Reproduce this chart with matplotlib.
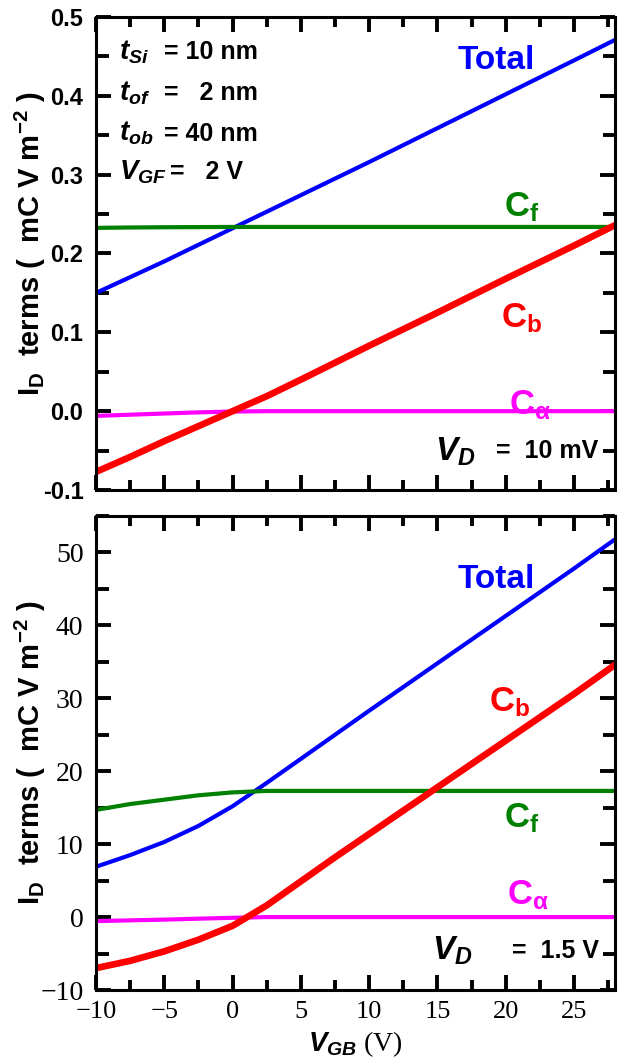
import matplotlib
matplotlib.use("Agg")
import matplotlib.pyplot as plt
from matplotlib.ticker import MultipleLocator, FixedLocator, FixedFormatter

plt.rcParams['font.family'] = 'Liberation Sans'
plt.rcParams['font.weight'] = 'bold'
plt.rcParams['mathtext.fontset'] = 'custom'
plt.rcParams['mathtext.rm'] = 'Liberation Sans:bold'
plt.rcParams['mathtext.bf'] = 'Liberation Sans:bold'
plt.rcParams['mathtext.it'] = 'Liberation Sans:italic:bold'
plt.rcParams['mathtext.default'] = 'bf'

# top panel, V_D = 10 mV
vgb_top = [-10, -7.5, -5, -2.5, 0, 2.5, 5, 10, 15, 20, 25, 28]
total_top = [0.150, 0.170, 0.190, 0.211, 0.232, 0.253, 0.274, 0.316, 0.359, 0.402, 0.445, 0.471]
cf_top = [0.2325, 0.233, 0.2333, 0.2335, 0.2337, 0.2337, 0.2337, 0.2337, 0.2337, 0.2337, 0.2337, 0.2337]
cb_top = [-0.077, -0.058, -0.038, -0.019, 0.000, 0.019, 0.040, 0.083, 0.125, 0.168, 0.210, 0.236]
ca_top = [-0.006, -0.0045, -0.003, -0.0015, -0.0005, 0, 0, 0, 0, 0, 0, 0]

# bottom panel, V_D = 1.5 V
vgb_bot = [-10, -7.5, -5, -2.5, 0, 2.5, 5, 7.5, 10, 15, 20, 25, 28]
total_bot = [6.9, 8.5, 10.3, 12.5, 15.2, 18.4, 21.7, 25.0, 28.3, 34.8, 41.3, 47.8, 51.8]
cb_bot = [-7.0, -6.0, -4.7, -3.1, -1.2, 1.6, 4.9, 8.2, 11.4, 17.8, 24.2, 30.6, 34.6]
cf_bot = [14.7, 15.5, 16.1, 16.7, 17.1, 17.3, 17.3, 17.3, 17.3, 17.3, 17.3, 17.3, 17.3]
ca_bot = [-0.55, -0.45, -0.35, -0.22, -0.1, 0, 0, 0, 0, 0, 0, 0, 0]

top_yticks = [-0.1, 0.0, 0.1, 0.2, 0.3, 0.4, 0.5]
top_yticklabels = ['-0.1', '0.0', '0.1', '0.2', '0.3', '0.4', '0.5']
bot_yticks = [-10, 0, 10, 20, 30, 40, 50]
bot_yticklabels = ['\u221210', '0', '10', '20', '30', '40', '50']
xticks = [-10, -5, 0, 5, 10, 15, 20, 25]
xticklabels = ['\u221210', '\u22125', '0', '5', '10', '15', '20', '25']

ylabel = r'I$_\mathbf{D}$  terms (  mC V m$^{\mathbf{-2}}$ )'

fig = plt.figure(figsize=(6.18, 10.63), dpi=100)
W, H = 618, 1063
ax1 = fig.add_axes([96 / W, 1 - 490 / H, 519 / W, 473 / H])
ax2 = fig.add_axes([96 / W, 1 - 990 / H, 519 / W, 474 / H])


def style(ax):
    for s in ax.spines.values():
        s.set_linewidth(2.2)
    ax.tick_params(which='both', direction='in', top=True, right=True, width=2.8)
    ax.tick_params(which='major', length=11, pad=9)
    ax.tick_params(axis='y', which='minor', length=9)
    ax.tick_params(axis='x', which='minor', length=7)
    ax.xaxis.set_major_locator(FixedLocator(xticks))
    ax.xaxis.set_minor_locator(MultipleLocator(2.5))
    ax.set_xlim(-10, 28)


def curves(ax, x, tot, cf, cb, ca):
    ax.plot(x, tot, color='#0000ff', lw=3.0)
    ax.plot(x, cf, color='#008000', lw=3.0)
    ax.plot(x, ca, color='#ff00ff', lw=3.0)
    ax.plot(x, cb, color='#ff0000', lw=4.8)


# ---- top
curves(ax1, vgb_top, total_top, cf_top, cb_top, ca_top)
style(ax1)
ax1.set_ylim(-0.1, 0.5)
ax1.yaxis.set_major_locator(FixedLocator(top_yticks))
ax1.yaxis.set_major_formatter(FixedFormatter(top_yticklabels))
ax1.yaxis.set_minor_locator(MultipleLocator(0.05))
ax1.tick_params(axis='x', labelbottom=False)
for lab in ax1.get_yticklabels():
    lab.set_fontsize(17)
    lab.set_fontweight('bold')
ax1.set_ylabel(ylabel, fontsize=21, fontweight='bold')
ax1.yaxis.set_label_coords(-0.092, 0.52)

params = [(r'$\mathit{t}_{\mathit{Si}}$', '= 10 nm', 0.455, -5.0),
          (r'$\mathit{t}_{\mathit{of}}$', '=   2 nm', 0.403, -5.0),
          (r'$\mathit{t}_{\mathit{ob}}$', '= 40 nm', 0.352, -5.0),
          (r'$\mathit{V}_{\mathit{GF}}$', '=   2 V', 0.303, -4.6)]
for sym, val, yy, xv in params:
    ax1.text(-8.3, yy, sym, fontsize=20, va='center', ha='left')
    ax1.text(xv, yy, val, fontsize=18, va='center', ha='left')

ax1.text(19.3, 0.445, 'Total', color='#0000ff', fontsize=24, ha='center', va='center')
ax1.text(21.2, 0.259, r'C$_\mathbf{f}$', color='#008000', fontsize=25, ha='center', va='center')
ax1.text(21.2, 0.118, r'C$_\mathbf{b}$', color='#ff0000', fontsize=25, ha='center', va='center')
ax1.text(21.8, 0.008, r'C$_\alpha$', color='#ff00ff', fontsize=25, ha='center', va='center')
ax1.text(14.8, -0.051, r'$\mathit{V}_{\mathit{D}}$', fontsize=24, ha='left', va='center')
ax1.text(26.8, -0.051, '=  10 mV', fontsize=18, ha='right', va='center')

# ---- bottom
curves(ax2, vgb_bot, total_bot, cf_bot, cb_bot, ca_bot)
style(ax2)
ax2.set_ylim(-10, 55)
ax2.yaxis.set_major_locator(FixedLocator(bot_yticks))
ax2.yaxis.set_major_formatter(FixedFormatter(bot_yticklabels))
ax2.yaxis.set_minor_locator(MultipleLocator(5))
ax2.xaxis.set_major_formatter(FixedFormatter(xticklabels))
for lab in ax2.get_yticklabels():
    lab.set_fontsize(20)
    lab.set_fontfamily('Liberation Serif')
    lab.set_fontweight('normal')
for lab in ax2.get_xticklabels():
    lab.set_fontsize(19)
    lab.set_fontfamily('Liberation Serif')
    lab.set_fontweight('normal')
ax2.tick_params(axis='x', pad=8)
ax2.set_ylabel(ylabel, fontsize=21, fontweight='bold')
ax2.yaxis.set_label_coords(-0.092, 0.50)
ax2.set_xlabel(r'$\mathit{V}_{\mathit{GB}}$ (V)', fontsize=20, fontfamily='Liberation Serif',
               fontweight='normal')
ax2.xaxis.set_label_coords(0.5, -0.082)

ax2.text(19.3, 46.3, 'Total', color='#0000ff', fontsize=24, ha='center', va='center')
ax2.text(20.3, 29.5, r'C$_\mathbf{b}$', color='#ff0000', fontsize=25, ha='center', va='center')
ax2.text(21.2, 13.5, r'C$_\mathbf{f}$', color='#008000', fontsize=25, ha='center', va='center')
ax2.text(21.6, 3.0, r'C$_\alpha$', color='#ff00ff', fontsize=25, ha='center', va='center')
ax2.text(14.6, -4.6, r'$\mathit{V}_{\mathit{D}}$', fontsize=24, ha='left', va='center')
ax2.text(26.8, -4.6, '=  1.5 V', fontsize=18, ha='right', va='center')

fig.savefig('out.png', dpi=100)
